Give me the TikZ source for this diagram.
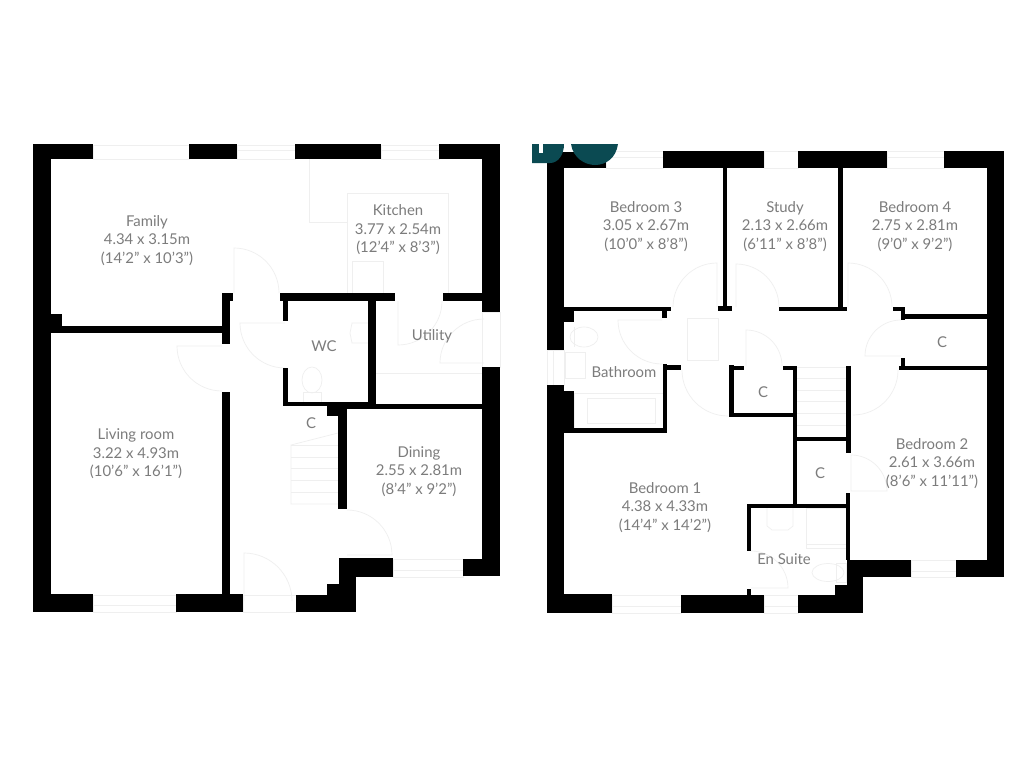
\documentclass[tikz,border=0pt]{standalone}
\usepackage{fontspec}
\setmainfont{Lato}
\usetikzlibrary{positioning}
\definecolor{labelgray}{HTML}{7C7C7C}
\definecolor{fixgray}{HTML}{EFEFEF}
\definecolor{logoteal}{HTML}{0B4A52}
\tikzstyle{wall} = [fill=black]
\tikzstyle{fixture} = [draw=fixgray, line width=0.7pt]
\tikzstyle{room} = [
    text=labelgray,
    align=center,
    inner sep=0pt,
    font=\fontsize{14.9}{18.6}\selectfont
]
\tikzstyle{tag} = [
    text=labelgray,
    inner sep=0pt,
    font=\fontsize{14.9}{18}\selectfont
]

\begin{document}
\begin{tikzpicture}[x=1pt, y=1pt, yscale=-1]

\useasboundingbox [fill=white] (0,0) rectangle (1024,768);

% Ground floor windows
\draw [fixture] (93,145) rectangle (189,159);
\draw [fixture] (237,145) rectangle (295,159);
\draw [fixture] (237,150) -- (295,150);
\draw [fixture] (381,145) rectangle (439,159);
\draw [fixture] (381,150) -- (439,150);
\draw [fixture] (93,595) rectangle (176,612);
\draw [fixture] (93,605) -- (176,605);
\draw [fixture] (243,595) rectangle (296,612);
\draw [fixture] (393,559) rectangle (463,577);
\draw [fixture] (393,570) -- (463,570);
\draw [fixture] (482,312) rectangle (500,367);

% Ground floor doors
\draw [fixture] (234,293) -- ++(-90:45) arc (-90:0:45pt);
\draw [fixture] (285,323) -- ++(180:45) arc (180:90:45pt);
\draw [fixture] (222,346) -- ++(180:45) arc (180:90:45pt);
\draw [fixture] (347,555) -- ++(0:45) arc (0:-90:45pt);
\draw [fixture] (244,601) -- ++(-90:48) arc (-90:0:48pt);
\draw [fixture] (484,363) -- ++(180:44) arc (180:270:44pt);
\draw [fixture] (398,301) -- ++(90:44) arc (90:0:44pt);

% Kitchen and utility fittings
\draw [fixture] (309,159) -- (309,222) -- (347,222);
\draw [fixture] (347,293) -- (347,193) -- (448,193) -- (448,293);
\draw [fixture] (352,293) -- (352,261) -- (383,261) -- (383,293);
\draw [fixture] (376,373) -- (482,373);
\draw [fixture] (368,323) -- (352,323) -- (350,333) -- (352,343) -- (368,343);

% WC fittings
\draw [fixture] (312,380) ellipse (10pt and 13pt);
\draw [fixture] (303,392) rectangle (321,402);

% Ground floor stairs
\draw [fixture] (338,433) -- (291,445) -- (291,504) -- (338,504);
\draw [fixture] (291,445) -- (338,445);
\draw [fixture] (291,457) -- (338,457);
\draw [fixture] (291,468) -- (338,468);
\draw [fixture] (291,480) -- (338,480);
\draw [fixture] (291,492) -- (338,492);

% First floor windows
\draw [fixture] (606,151) rectangle (663,168);
\draw [fixture] (606,157) -- (663,157);
\draw [fixture] (764,151) rectangle (798,168);
\draw [fixture] (887,151) rectangle (944,168);
\draw [fixture] (887,157) -- (944,157);
\draw [fixture] (612,595) rectangle (681,613);
\draw [fixture] (612,606) -- (681,606);
\draw [fixture] (764,595) rectangle (798,613);
\draw [fixture] (764,606) -- (798,606);
\draw [fixture] (911,560) rectangle (956,577);
\draw [fixture] (911,571) -- (956,571);
\draw [fixture] (547,350) rectangle (564,385);
\draw [fixture] (553,350) -- (553,385);

% First floor doors
\draw [fixture] (717,307) -- ++(-90:44) arc (-90:-180:44pt);
\draw [fixture] (736,307) -- ++(-90:43) arc (-90:0:43pt);
\draw [fixture] (848,307) -- ++(-90:44) arc (-90:0:44pt);
\draw [fixture] (662,320) -- ++(180:44) arc (180:90:44pt);
\draw [fixture] (728,370) ++(180:46) arc (180:90:46pt);
\draw [fixture] (746,366) -- ++(-90:36) arc (-90:0:36pt);
\draw [fixture] (901,356) -- ++(180:36) arc (180:270:36pt);
\draw [fixture] (853,370) ++(0:45) arc (0:90:45pt);
\draw [fixture] (851,491) -- ++(-90:36) arc (-90:0:36pt) -- cycle;
\draw [fixture] (751,588) -- ++(0:37) arc (0:-90:37pt);

% Hatch, bathroom and en suite fittings
\draw [fixture] (687,318) rectangle (718,360);
\draw [fixture] (574,327) -- (574,347);
\draw [fixture] (584,337) ellipse (14pt and 10pt);
\draw [fixture] (565,352) rectangle (585,378);
\draw [fixture] (574,393) rectangle (663,428);
\draw [fixture] (587,398) rectangle (655,423);
\draw [fixture] (622,393) -- (662,393);
\draw [fixture] (767,508) -- (767,526) -- (772,530) -- (788,530) -- (793,526) -- (793,508);
\draw [fixture] (806,508) rectangle (846,548);
\draw [fixture] (806,544) -- (846,544);
\draw [fixture] (828,572.5) ellipse (16pt and 9pt);
\draw [fixture] (836,563) rectangle (846,582);

% First floor stairs
\draw [fixture] (797,367) -- (847,367);
\draw [fixture] (797,378) -- (847,378);
\draw [fixture] (797,390) -- (847,390);
\draw [fixture] (797,401) -- (847,401);
\draw [fixture] (797,413) -- (847,413);
\draw [fixture] (797,425) -- (847,425);

% Ground floor walls
\fill [wall] (33,144) rectangle (51,612);
\fill [wall] (33,144) rectangle (93,159);
\fill [wall] (189,144) rectangle (237,159);
\fill [wall] (295,144) rectangle (381,159);
\fill [wall] (439,144) rectangle (500,159);
\fill [wall] (482,144) rectangle (500,312);
\fill [wall] (482,367) rectangle (500,576);
\fill [wall] (51,314) rectangle (62,333);
\fill [wall] (51,326) rectangle (223,333);
\fill [wall] (222,293) rectangle (230,344);
\fill [wall] (222,293) rectangle (233,301);
\fill [wall] (222,392) rectangle (230,600);
\fill [wall] (280,293) rectangle (395,301);
\fill [wall] (443,293) rectangle (482,301);
\fill [wall] (283,301) rectangle (288,321);
\fill [wall] (283,368) rectangle (288,406);
\fill [wall] (283,402) rectangle (376,406);
\fill [wall] (368,301) rectangle (376,409);
\fill [wall] (347,404) rectangle (482,409);
\fill [wall] (327,406) rectangle (347,416);
\fill [wall] (338,406) rectangle (347,509);
\fill [wall] (463,559) rectangle (500,576);
\fill [wall] (339,558) rectangle (393,577);
\fill [wall] (339,558) rectangle (356,612);
\fill [wall] (327,584) rectangle (356,612);
\fill [wall] (296,595) rectangle (356,612);
\fill [wall] (33,594) rectangle (93,612);
\fill [wall] (176,594) rectangle (243,612);

% First floor walls
\fill [wall] (547,152) rectangle (564,350);
\fill [wall] (547,385) rectangle (564,613);
\fill [wall] (547,152) rectangle (606,168);
\fill [wall] (663,151) rectangle (764,168);
\fill [wall] (798,151) rectangle (887,168);
\fill [wall] (944,151) rectangle (1004,168);
\fill [wall] (987,151) rectangle (1004,577);
\fill [wall] (723,168) rectangle (727,311);
\fill [wall] (718,306) rectangle (732,311);
\fill [wall] (564,307) rectangle (671,311);
\fill [wall] (662,311) rectangle (667,318);
\fill [wall] (564,311) rectangle (574,322);
\fill [wall] (663,364) rectangle (667,433);
\fill [wall] (663,365) rectangle (681,370);
\fill [wall] (564,391) rectangle (574,430);
\fill [wall] (564,428) rectangle (667,433);
\fill [wall] (729,365) rectangle (734,417);
\fill [wall] (729,366) rectangle (744,370);
\fill [wall] (729,413) rectangle (797,417);
\fill [wall] (838,168) rectangle (843,311);
\fill [wall] (779,307) rectangle (847,311);
\fill [wall] (893,307) rectangle (905,311);
\fill [wall] (901,307) rectangle (905,320);
\fill [wall] (901,314) rectangle (987,319);
\fill [wall] (899,366) rectangle (987,370);
\fill [wall] (901,358) rectangle (905,370);
\fill [wall] (793,366) rectangle (797,508);
\fill [wall] (783,366) rectangle (797,370);
\fill [wall] (846,366) rectangle (851,453);
\fill [wall] (846,493) rectangle (850,560);
\fill [wall] (793,437) rectangle (850,441);
\fill [wall] (747,504) rectangle (850,508);
\fill [wall] (747,504) rectangle (751,551);
\fill [wall] (747,589) rectangle (751,597);
\fill [wall] (547,594) rectangle (612,613);
\fill [wall] (681,595) rectangle (764,613);
\fill [wall] (798,595) rectangle (863,613);
\fill [wall] (835,585) rectangle (863,613);
\fill [wall] (847,560) rectangle (863,613);
\fill [wall] (847,560) rectangle (911,577);
\fill [wall] (956,560) rectangle (1004,577);

% Logo
\fill [logoteal] (532,144) -- (564,144) .. controls (564,155) and (558,163) .. (550,163) -- (532,163) -- cycle;
\fill [white] (539,144) rectangle (543,153);
\fill [logoteal] (571,144) .. controls (573,158) and (585,165) .. (595,165) .. controls (606,165) and (616,158) .. (618,144) -- cycle;

% Ground floor labels
\node (family) [room] at (147,240.5) {Family\\4.34 x 3.15m\\(14'2" x 10'3")};
\node (kitchen) [room] at (398,230) {Kitchen\\3.77 x 2.54m\\(12'4" x 8'3")};
\node (utility) [tag] at (432,336.5) {Utility};
\node (wc) [tag] at (324,346.5) {WC};
\node (cupboardg) [tag] at (311,423.5) {C};
\node (dining) [room] at (419,471.5) {Dining\\2.55 x 2.81m\\(8'4" x 9'2")};
\node (living) [room] at (136,454) {Living room\\3.22 x 4.93m\\(10'6" x 16'1")};

% First floor labels
\node (bedthree) [room] at (646,226.5) {Bedroom 3\\3.05 x 2.67m\\(10'0" x 8'8")};
\node (study) [room] at (785,226.5) {Study\\2.13 x 2.66m\\(6'11" x 8'8")};
\node (bedfour) [room] at (915,226.5) {Bedroom 4\\2.75 x 2.81m\\(9'0" x 9'2")};
\node (cupboarda) [tag] at (942,342.5) {C};
\node (cupboardb) [tag] at (763,392.5) {C};
\node (bathroom) [tag] at (624,372.5) {Bathroom};
\node (bedone) [room] at (665,507.5) {Bedroom 1\\4.38 x 4.33m\\(14'4" x 14'2")};
\node (bedtwo) [room] at (932,463.5) {Bedroom 2\\2.61 x 3.66m\\(8'6" x 11'11")};
\node (cupboardc) [tag] at (820,473.5) {C};
\node (ensuite) [tag] at (784,559.5) {En Suite};

\end{tikzpicture}
\end{document}
